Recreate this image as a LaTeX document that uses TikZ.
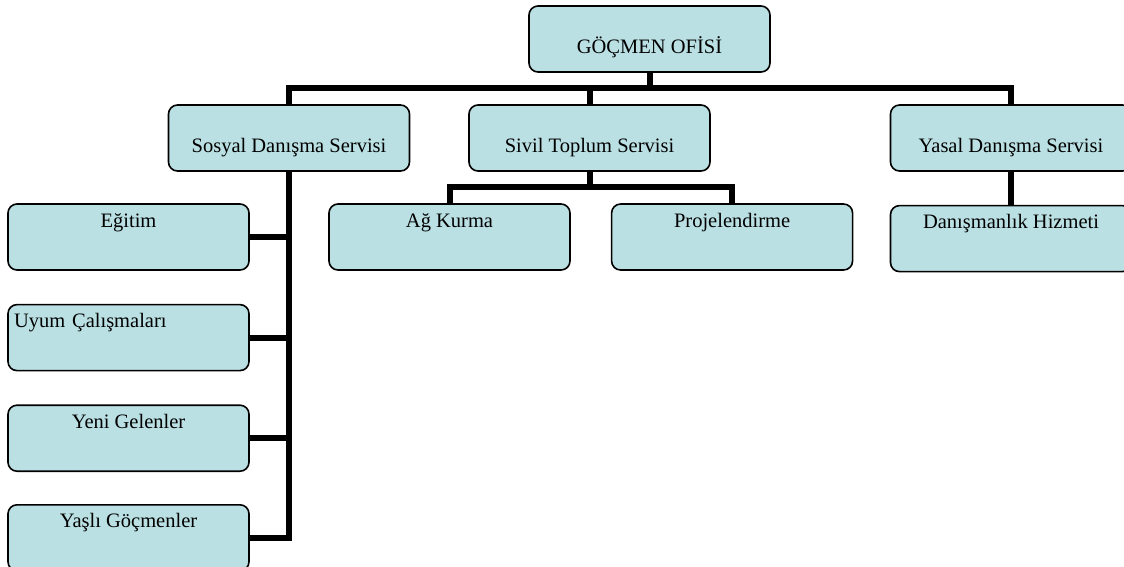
\documentclass[tikz,border=0pt]{standalone}
\usepackage{fontspec}
\setmainfont{Liberation Serif}
\usepackage{tikz}
\usepackage{xcolor}
\usetikzlibrary{positioning}

\definecolor{boxfill}{RGB}{186,224,227}
\tikzset{
  basebox/.style={draw, line width=1.6pt, rounded corners=9pt, fill=boxfill,
    minimum width=241pt, minimum height=66pt, inner sep=0pt,
    font=\fontsize{20.5}{24}\selectfont},
  unitbox/.style={basebox, text height=32pt, text depth=4pt},
  subbox/.style={basebox, text height=14pt, text depth=34pt},
  link/.style={line width=6pt}
}

\begin{document}
\begin{tikzpicture}[x=1pt, y=-1pt]
\useasboundingbox (0,0) rectangle (1124,566);

\node[unitbox] (office) at (649.5,39) {GÖÇMEN OFİSİ};
\node[unitbox] (sosyal) at (289,138) {Sosyal Danışma Servisi};
\node[unitbox] (sivil) at (589.5,138) {Sivil Toplum Servisi};
\node[unitbox] (yasal) at (1011,138) {Yasal Danışma Servisi};

\node[subbox] (agkurma) at (449.5,237) {Ağ Kurma};
\node[subbox, right=40pt of agkurma] (proje) {Projelendirme};
\node[subbox, below=33pt of yasal] (danis) {Danışmanlık Hizmeti};

\node[subbox] (egitim) at (128.5,237) {Eğitim};
\node[subbox, below=33pt of egitim, align=left, text width=229pt, inner xsep=6pt] (uyum) {Uyum Çalışmaları};
\node[subbox, below=33pt of uyum] (yeni) {Yeni Gelenler};
\node[subbox, below=32pt of yeni] (yasli) {Yaşlı Göçmenler};

\coordinate (bar) at (0,88);
\coordinate (subbar) at (0,187);

\draw[link] (office.south) -- (office.south |- bar);
\draw[link] (sosyal.north) |- (yasal.north |- bar) -- (yasal.north);
\draw[link] (sivil.north) -- (sivil.north |- bar);

\draw[link] (sivil.south) -- (sivil.south |- subbar);
\draw[link] (agkurma.north) |- (proje.north |- subbar) -- (proje.north);
\draw[link] (yasal.south) -- (danis.north);

\draw[link] (sosyal.south) |- (yasli.east);
\foreach \n in {egitim, uyum, yeni}
  \draw[link] (\n.east) -- (\n.east -| sosyal.south);
\end{tikzpicture}
\end{document}
